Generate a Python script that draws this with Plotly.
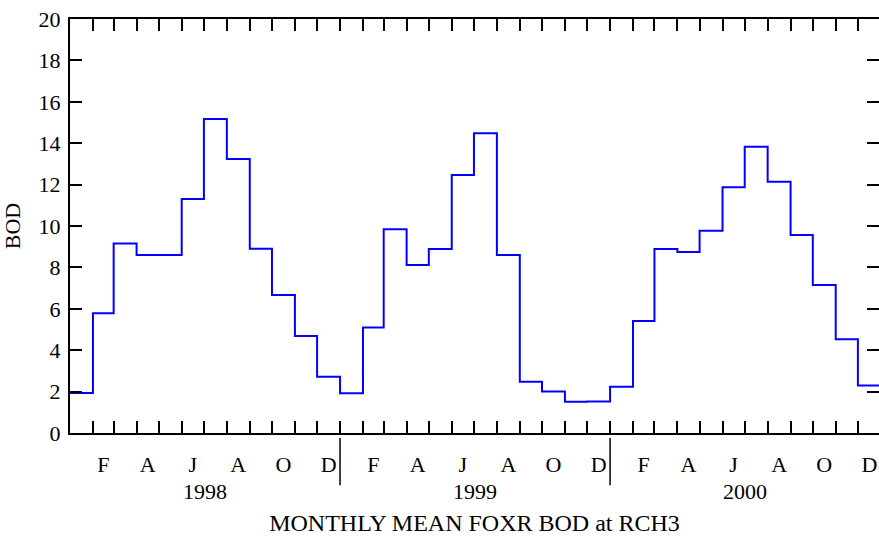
import pandas as pd
import plotly.graph_objects as go

# ---- data ----
months = pd.date_range("1998-01-01", periods=36, freq="MS")
bod = [1.93, 5.78, 9.16, 8.60, 8.60, 11.30, 15.17, 13.24, 8.90, 6.67, 4.69, 2.72,
       1.92, 5.10, 9.84, 8.12, 8.89, 12.46, 14.48, 8.60, 2.48, 2.00, 1.51, 1.52,
       2.24, 5.41, 8.89, 8.75, 9.77, 11.87, 13.83, 12.14, 9.57, 7.15, 4.53, 2.29]
month_letters = ["F", "A", "J", "A", "O", "D"]
label_months = [2, 4, 6, 8, 10, 12]
years = [1998, 1999, 2000]
y_ticks = list(range(0, 21, 2))

FONT = "Liberation Serif"
# step line: append end of last month
x_step = list(months) + [months[-1] + pd.offsets.MonthBegin(1)]
y_step = bod + [bod[-1]]

x_start = pd.Timestamp("1998-01-01")
x_end = pd.Timestamp("2000-12-29 12:00")

fig = go.Figure()
fig.add_trace(go.Scatter(x=x_step, y=y_step, mode="lines", line=dict(shape="hv", color="#0000ff", width=2),
                         showlegend=False, hoverinfo="skip"))

# month label centers
lab_x = []
for y in years:
    for m in label_months:
        s = pd.Timestamp(year=y, month=m, day=1)
        e = s + pd.offsets.MonthBegin(1)
        lab_x.append(s + (e - s) / 2)
lab_t = month_letters * len(years)

# invisible trace on x2 to make axis render
fig.add_trace(go.Scatter(x=[x_start], y=[None], xaxis="x2", yaxis="y2", showlegend=False, hoverinfo="skip"))

fig.update_layout(
    width=879, height=537,
    margin=dict(l=70, r=0, t=19, b=104),
    paper_bgcolor="white", plot_bgcolor="white",
    font=dict(family=FONT, size=22, color="black"),
    xaxis=dict(type="date", range=[x_start, x_end], tickvals=list(months) + [x_step[-1]],
               ticks="inside", ticklen=12, tickwidth=2, tickcolor="black",
               showticklabels=False, showline=True, linewidth=2, linecolor="black",
               mirror="ticks", showgrid=False, zeroline=False,
               title=dict(text="MONTHLY MEAN FOXR BOD at RCH3", standoff=80,
                          font=dict(family=FONT, size=24))),
    xaxis2=dict(type="date", range=[x_start, x_end], overlaying="x", side="bottom", anchor="y",
                tickvals=lab_x, ticktext=lab_t, ticks="", showline=False, showgrid=False,
                zeroline=False, ticklabelstandoff=16, tickfont=dict(family=FONT, size=22)),
    yaxis=dict(range=[0, 20], tickvals=y_ticks, ticks="inside", ticklen=12, tickwidth=2,
               tickcolor="black", showline=True, linewidth=2, linecolor="black",
               showgrid=False, zeroline=False, ticklabelstandoff=3,
               tickfont=dict(family=FONT, size=22),
               title=dict(text="BOD", standoff=13, font=dict(family=FONT, size=22))),
    yaxis2=dict(range=[0, 20], tickvals=y_ticks, overlaying="y", side="right", anchor="x",
                ticks="inside", ticklen=12, tickwidth=2, tickcolor="black",
                showticklabels=False, showline=False, showgrid=False, zeroline=False),
)

# year labels and separators
for y in years:
    s = pd.Timestamp(year=y, month=1, day=1)
    e = pd.Timestamp(year=y + 1, month=1, day=1)
    fig.add_annotation(x=s + (e - s) / 2, y=-0.142, xref="x", yref="paper", text=str(y),
                       showarrow=False, yanchor="middle", font=dict(family=FONT, size=22))
    if y > years[0]:
        fig.add_shape(type="line", xref="x", yref="paper", x0=s, x1=s, y0=-0.012, y1=-0.126,
                      line=dict(color="black", width=1.5))

fig.write_html("out.html")
